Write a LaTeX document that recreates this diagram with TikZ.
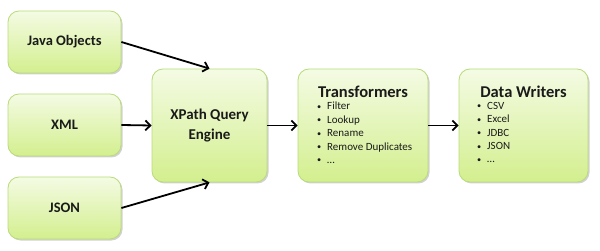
\documentclass[tikz,border=0pt]{standalone}
\usepackage{fontspec}
\setmainfont{Carlito}
\usetikzlibrary{positioning,arrows.meta,shadows}
\definecolor{boxtop}{HTML}{F4FBE4}
\definecolor{boxbot}{HTML}{D3EF8E}
\definecolor{boxline}{HTML}{B9DB7A}
\definecolor{inktext}{HTML}{1A1A1A}

\tikzset{
    stagebox/.style={draw=boxline, line width=0.8pt, rounded corners=11pt, top color=boxtop, bottom color=boxbot,
        drop shadow={shadow xshift=1.5pt, shadow yshift=-1.5pt, fill=black, opacity=0.18}, inner sep=0pt, text=inktext},
    srcbox/.style={stagebox, minimum width=113pt, minimum height=62pt, font=\fontsize{14.5}{16}\selectfont\bfseries},
    bigbox/.style={stagebox, minimum width=#1, minimum height=113pt},
    boxtitle/.style={font=\fontsize{16.5}{18}\selectfont\bfseries, inner sep=0pt, text=inktext},
    flow/.style={-{Straight Barb[length=5pt, width=10pt, line width=1.8pt]}, line width=1.8pt, black},
    itemlist/.style={anchor=north west, align=left, inner sep=0pt, text=inktext, font=\fontsize{11}{13.4}\selectfont}
}
\newcommand{\itm}[1]{\makebox[10pt][l]{\raisebox{0.5pt}{\scalebox{0.75}{\textbullet}}}#1}

\begin{document}
\begin{tikzpicture}[x=1pt, y=-1pt]
    \useasboundingbox (0,0) rectangle (600,251);

    % Inputs
    \node[srcbox] (java) at (64.5, 42) {Java Objects};
    \node[srcbox] (xml)  at (64.5, 125) {XML};
    \node[srcbox] (json) at (64.5, 208) {JSON};

    % Query engine
    \node[bigbox=115pt, align=center, font=\fontsize{15}{20}\selectfont\bfseries] (xpath) at (209.5, 125.5) {XPath Query\\Engine};

    % Transformers
    \node[bigbox=130pt] (trans) at (363, 125.5) {};
    \node[boxtitle] (transtitle) at (363, 92) {Transformers};
    \node[itemlist] (translist) at (317, 102) {\itm{Filter}\\\itm{Lookup}\\\itm{Rename}\\\itm{Remove Duplicates}\\\itm{\dots}};

    % Data writers
    \node[bigbox=129pt] (writers) at (523.5, 125.5) {};
    \node[boxtitle] (writerstitle) at (523.5, 92) {Data Writers};
    \node[itemlist] (writerslist) at (477, 102) {\itm{CSV}\\\itm{Excel}\\\itm{JDBC}\\\itm{JSON}\\\itm{\dots}};

    % Connectors
    \draw[flow] (java.east) -- (xpath.north);
    \draw[flow] (xml.east) -- (xpath.west);
    \draw[flow] (json.east) -- (xpath.south);
    \draw[flow] (xpath.east) -- (trans.west);
    \draw[flow] (trans.east) -- (writers.west);
\end{tikzpicture}
\end{document}
